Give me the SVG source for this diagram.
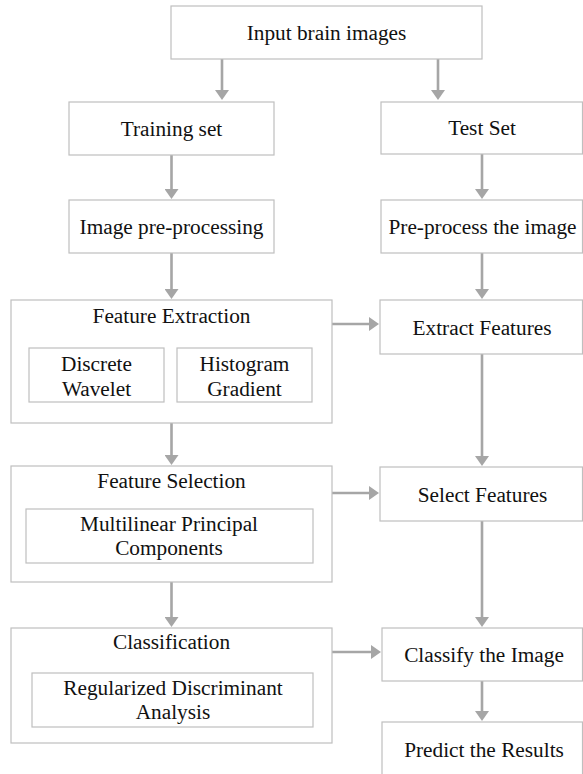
<svg xmlns="http://www.w3.org/2000/svg" width="583" height="774" viewBox="0 0 583 774">
  <style>
    .box { fill: #ffffff; stroke: #bfbfbf; stroke-width: 1.2; }
    .inner { fill: #ffffff; stroke: #bfbfbf; stroke-width: 1.2; }
    text { font-family: 'Liberation Serif', 'Times New Roman', Times, serif; font-size: 21.3px; fill: #111111; text-anchor: middle; }
    .edge { fill: none; stroke: #a6a6a6; stroke-width: 2.6; marker-end: url(#arrow); }
  </style>
  <defs>
    <marker id="arrow" markerUnits="userSpaceOnUse" markerWidth="10" markerHeight="14" viewBox="0 0 10 14" refX="0" refY="7" orient="auto">
      <path d="M0,0 L10,7 L0,14 Z" fill="#a6a6a6"/>
    </marker>
  </defs>
  <rect width="583" height="774" fill="#ffffff"/>

  <!-- connectors -->
  <g id="connectors">
    <path class="edge" d="M222,59 V90"/>
    <path class="edge" d="M438,59 V90"/>
    <path class="edge" d="M171.5,155 V189"/>
    <path class="edge" d="M482,154 V189"/>
    <path class="edge" d="M171.5,253 V289"/>
    <path class="edge" d="M482,253 V289"/>
    <path class="edge" d="M332,324 H369"/>
    <path class="edge" d="M171.5,423 V455"/>
    <path class="edge" d="M482,354 V456"/>
    <path class="edge" d="M332,493 H369"/>
    <path class="edge" d="M171.5,582 V617"/>
    <path class="edge" d="M482,521 V617"/>
    <path class="edge" d="M332,652 H371"/>
    <path class="edge" d="M482,681 V711"/>
  </g>

  <g id="input" font-family="Liberation Serif, serif">
    <rect class="box" x="171" y="6" width="311" height="53"/>
    <text x="326.5" y="40">Input brain images</text>
  </g>

  <g id="training-set">
    <rect class="box" x="69" y="102" width="205" height="53"/>
    <text x="171.5" y="136">Training set</text>
  </g>

  <g id="test-set">
    <rect class="box" x="381" y="102" width="201.5" height="52"/>
    <text x="482" y="135">Test Set</text>
  </g>

  <g id="image-preprocessing">
    <rect class="box" x="69" y="200" width="205" height="53"/>
    <text x="171.5" y="234">Image pre-processing</text>
  </g>

  <g id="preprocess-image">
    <rect class="box" x="381" y="200" width="201.5" height="53"/>
    <text x="482.5" y="234">Pre-process the image</text>
  </g>

  <g id="feature-extraction">
    <rect class="box" x="11" y="300" width="321" height="123"/>
    <text x="171.5" y="323">Feature Extraction</text>
    <g id="discrete-wavelet">
      <rect class="inner" x="29" y="348" width="135" height="54"/>
      <text x="96.5" y="371">Discrete</text>
      <text x="96.5" y="396">Wavelet</text>
    </g>
    <g id="histogram-gradient">
      <rect class="inner" x="177" y="348" width="135" height="54"/>
      <text x="244.5" y="371">Histogram</text>
      <text x="244.5" y="396">Gradient</text>
    </g>
  </g>

  <g id="extract-features">
    <rect class="box" x="380" y="300" width="202.5" height="54"/>
    <text x="482" y="335">Extract Features</text>
  </g>

  <g id="feature-selection">
    <rect class="box" x="11" y="466" width="321" height="116"/>
    <text x="171.5" y="488">Feature Selection</text>
    <g id="mpca">
      <rect class="inner" x="26" y="509" width="287" height="54"/>
      <text x="169" y="531">Multilinear Principal</text>
      <text x="169" y="555">Components</text>
    </g>
  </g>

  <g id="select-features">
    <rect class="box" x="380" y="467" width="202.5" height="54"/>
    <text x="482.5" y="502">Select Features</text>
  </g>

  <g id="classification">
    <rect class="box" x="11" y="628" width="321" height="115"/>
    <text x="171.5" y="649">Classification</text>
    <g id="rda">
      <rect class="inner" x="32" y="673" width="281" height="54"/>
      <text x="173" y="695">Regularized Discriminant</text>
      <text x="173" y="719">Analysis</text>
    </g>
  </g>

  <g id="classify-image">
    <rect class="box" x="382" y="628" width="200.5" height="53"/>
    <text x="484" y="662">Classify the Image</text>
  </g>

  <g id="predict-results">
    <rect class="box" x="382" y="722" width="200.5" height="70"/>
    <text x="484" y="757">Predict the Results</text>
  </g>
</svg>
